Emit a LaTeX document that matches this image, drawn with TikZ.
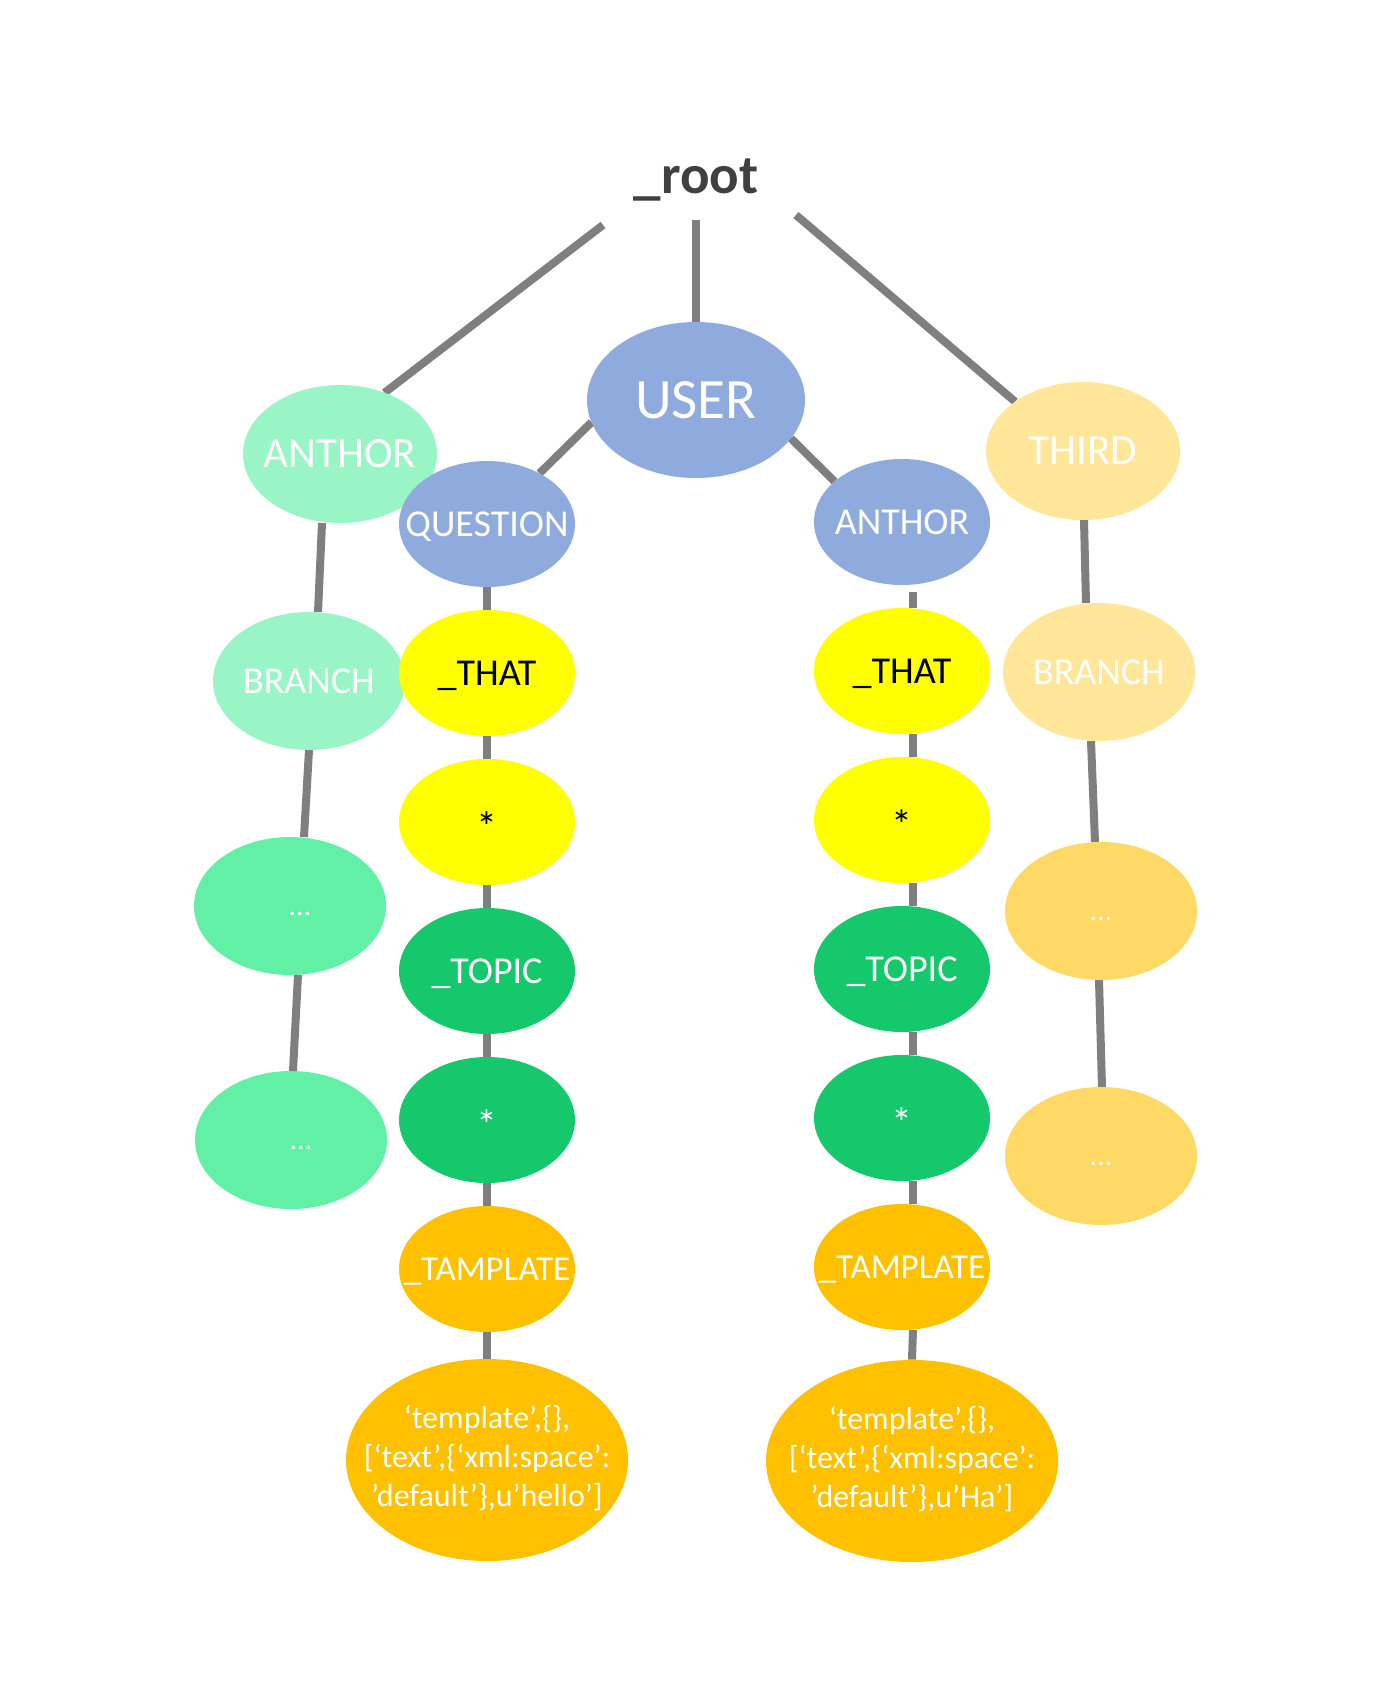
\documentclass[tikz,border=0pt]{standalone}
\usepackage{fontspec}
\setmainfont{Carlito}
\usetikzlibrary{shapes.geometric,positioning,backgrounds}

\definecolor{userblue}{HTML}{8FAADC}
\definecolor{mint}{HTML}{99F5C6}
\definecolor{mintdark}{HTML}{61F0A5}
\definecolor{sand}{HTML}{FFE699}
\definecolor{sanddark}{HTML}{FFD966}
\definecolor{lemon}{HTML}{FFFF00}
\definecolor{leaf}{HTML}{14C86B}
\definecolor{amber}{HTML}{FFC000}
\definecolor{wire}{HTML}{7F7F7F}
\definecolor{ink}{HTML}{404040}

\newcommand{\ztext}[1]{\makebox[0pt]{#1}}

\tikzset{
  blob/.style={ellipse,inner sep=0pt,outer sep=0pt,text=white,text depth=0pt},
  large/.style={blob,minimum width=97pt,minimum height=69pt,text height=13.6pt,font=\fontsize{21.5}{26}\selectfont},
  side/.style={blob,minimum width=96pt,minimum height=69pt,text height=12pt,font=\fontsize{19}{23}\selectfont},
  dotsnode/.style={side,text height=9.5pt,font=\fontsize{15}{18}\selectfont},
  cell/.style={blob,minimum width=88pt,minimum height=63pt,text height=12pt,font=\fontsize{19}{23}\selectfont},
  starcell/.style={cell,text height=19pt,font=\fontsize{21}{25}\selectfont},
  leafcode/.style={ellipse,inner sep=0pt,text=white,minimum height=101pt,fill=amber,font=\fontsize{16}{19.5}\selectfont},
  link/.style={draw=wire,line width=4pt}
}

\begin{document}
\begin{tikzpicture}[x=0.5pt,y=-0.5pt,node distance=74.5pt]
\useasboundingbox (0,0) rectangle (1397,1683);

\node[font=\fontsize{27.5}{32}\selectfont\bfseries,text=ink,anchor=base] (root) at (696,193) {\_root};
\coordinate (rootL) at (603,225);
\coordinate (rootM) at (696,220);
\coordinate (rootR) at (796,215);

\node[blob,fill=userblue,minimum width=109pt,minimum height=78pt,text height=18pt,font=\fontsize{28.5}{34}\selectfont] (user) at (696,400) {\ztext{USER}};

% left branch
\node[large,fill=mint]        (anthorL) at (340,454)  {\ztext{ANTHOR}};
\node[side,fill=mint]         (branchL) at (309,681)  {\ztext{BRANCH}};
\node[dotsnode,fill=mintdark] (dotsL1)  at (290,906)  {\ztext{\hspace{10pt}…}};
\node[dotsnode,fill=mintdark] (dotsL2)  at (291,1140) {\ztext{\hspace{10pt}…}};

% right branch
\node[large,fill=sand]         (third)   at (1083,451) {\ztext{THIRD}};
\node[side,fill=sand]          (branchR) at (1099,672) {\ztext{BRANCH}};
\node[dotsnode,fill=sanddark]  (dotsR1)  at (1101,911)  {\ztext{…}};
\node[dotsnode,fill=sanddark]  (dotsR2)  at (1101,1156) {\ztext{…}};

% question chain
\node[cell,fill=userblue] (question) at (487,524) {\ztext{QUESTION}};
\node[cell,fill=lemon,text=black]     (thatQ)  [below of=question] {\ztext{\_THAT}};
\node[starcell,fill=lemon,text=black] (starQ1) [below of=thatQ]    {\ztext{*}};
\node[cell,fill=leaf]                 (topicQ) [below of=starQ1]   {\ztext{\_TOPIC}};
\node[starcell,fill=leaf]             (starQ2) [below of=topicQ]   {\ztext{*}};
\node[cell,fill=amber,text height=11pt,font=\fontsize{17.5}{21}\selectfont] (tamplQ) [below of=starQ2] {\ztext{\_TAMPLATE}};
\node[leafcode,minimum width=141pt] (codeQ) at (487,1460)
  {\ztext{\begin{tabular}{@{}c@{}}‘template’,\{\},\\{}[‘text’,\{‘xml:space’:\\’default’\},u’hello’]\end{tabular}}};

% anthor chain
\node[cell,fill=userblue] (anthorA) at (902,522) {\ztext{ANTHOR}};
\node[cell,fill=lemon,text=black]     (thatA)  [below of=anthorA] {\ztext{\_THAT}};
\node[starcell,fill=lemon,text=black] (starA1) [below of=thatA]   {\ztext{*}};
\node[cell,fill=leaf]                 (topicA) [below of=starA1]  {\ztext{\_TOPIC}};
\node[starcell,fill=leaf]             (starA2) [below of=topicA]  {\ztext{*}};
\node[cell,fill=amber,text height=11pt,font=\fontsize{17.5}{21}\selectfont] (tamplA) [below of=starA2] {\ztext{\_TAMPLATE}};
\node[leafcode,minimum width=146pt] (codeA) at (912,1461)
  {\ztext{\begin{tabular}{@{}c@{}}‘template’,\{\},\\{}[‘text’,\{‘xml:space’:\\’default’\},u’Ha’]\end{tabular}}};

\begin{scope}[on background layer]
\path[link] (rootL) edge (anthorL.54)
            (rootM) edge (user.north)
            (rootR) edge (third.144)
            (user.192) edge (question.44)
            (user.338) edge (anthorA.149);
\path[link] ([xshift=-9pt]anthorL.south) edge ([xshift=4.5pt]branchL.north)
            (branchL.south) edge ([xshift=7pt]dotsL1.north)
            ([xshift=4pt]dotsL1.south) edge ([xshift=1pt]dotsL2.north);
\path[link] ([xshift=0.5pt]third.south) edge ([xshift=-6.5pt]branchR.north)
            ([xshift=-4pt]branchR.south) edge ([xshift=-3pt]dotsR1.north)
            ([xshift=-1pt]dotsR1.south) edge ([xshift=0.5pt]dotsR2.north);
\path[link] (question) edge (thatQ)
            (thatQ)    edge (starQ1)
            (starQ1)   edge (topicQ)
            (topicQ)   edge (starQ2)
            (starQ2)   edge (tamplQ)
            (tamplQ)   edge (codeQ);
\path[link] ([xshift=5.5pt,yshift=-3.5pt]anthorA.south) edge ([xshift=5.5pt]thatA.north)
            ([xshift=5.5pt]thatA.south)  edge ([xshift=5.5pt]starA1.north)
            ([xshift=5.5pt]starA1.south) edge ([xshift=5.5pt]topicA.north)
            ([xshift=5.5pt]topicA.south) edge ([xshift=5.5pt]starA2.north)
            ([xshift=5.5pt]starA2.south) edge ([xshift=5.5pt]tamplA.north)
            ([xshift=5.5pt]tamplA.south) edge (codeA.north);
\end{scope}
\end{tikzpicture}
\end{document}
